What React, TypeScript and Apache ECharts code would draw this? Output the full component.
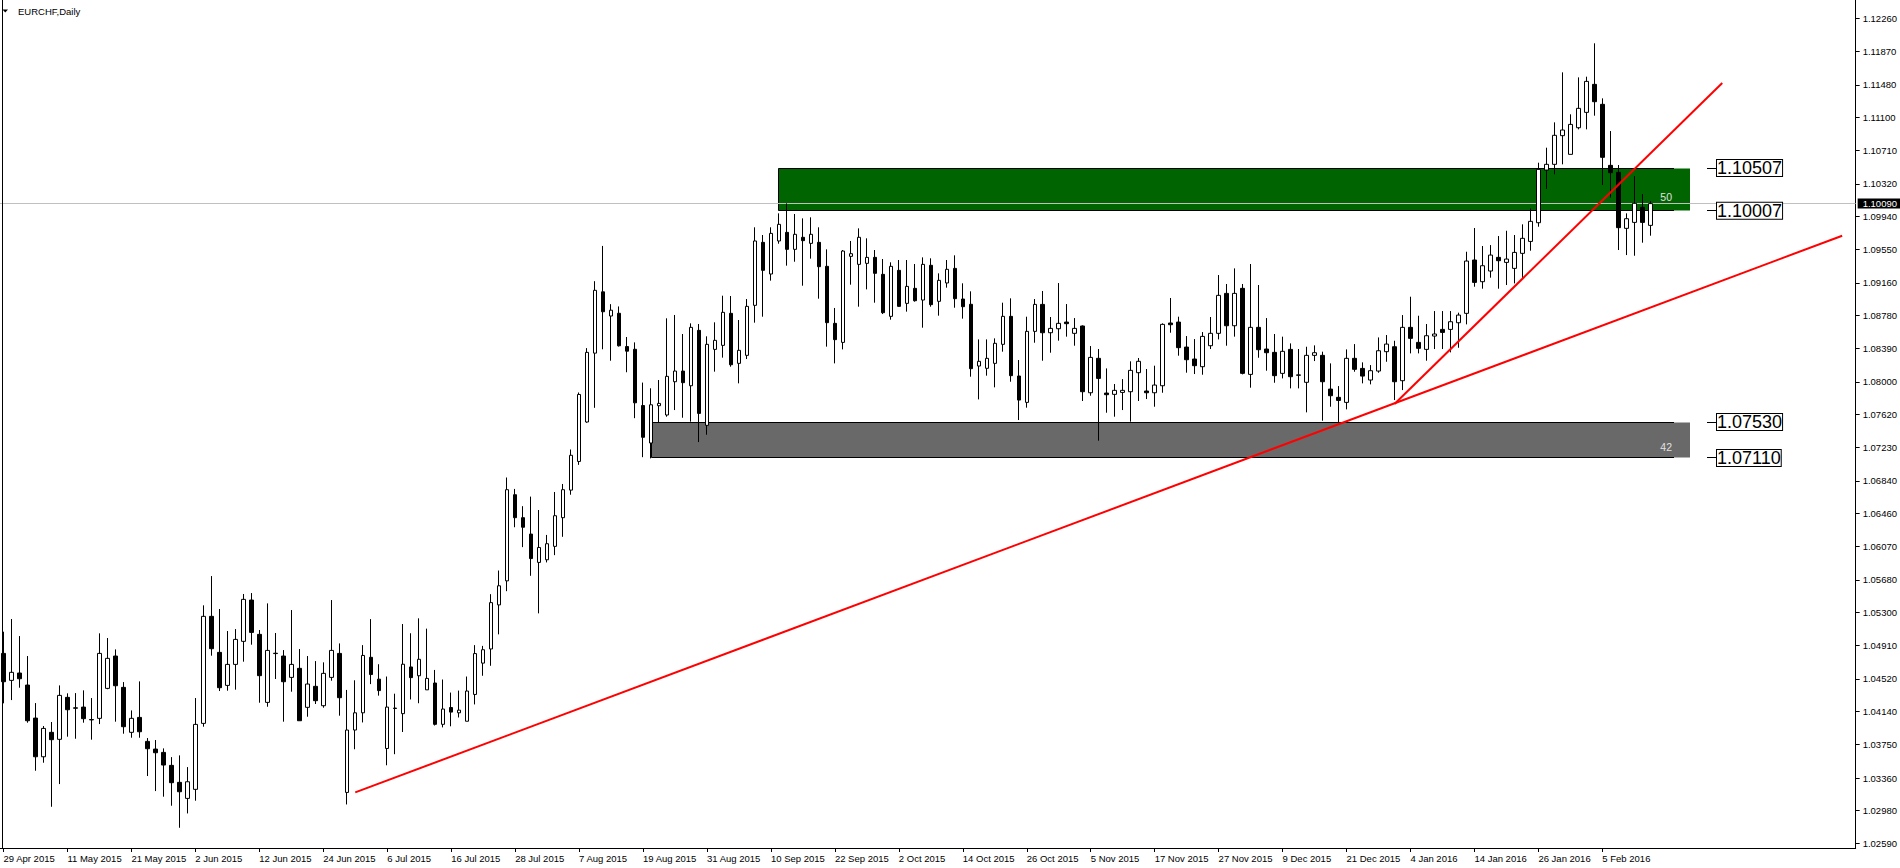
import React, { useEffect, useRef } from "react";
import * as echarts from "echarts";

// ---------- DATA ----------
const SYMBOL_TITLE = "EURCHF,Daily";
const START_DATE = "2015-04-29";
const HOLIDAYS = ["2015-12-25", "2016-01-01"];
const BAR_COUNT = 207;

const open = [
  1.0482, 1.04504, 1.0459, 1.04449, 1.04062, 1.03609, 1.03895, 1.03813, 1.04305, 1.04182,
  1.04191, 1.04045, 1.04059, 1.0441, 1.04789, 1.04422, 1.03895, 1.0407, 1.03789, 1.03699,
  1.0366, 1.03508, 1.03309, 1.03121, 1.03227, 1.04, 1.05254, 1.04832, 1.04445, 1.04691,
  1.04961, 1.05445, 1.05043, 1.04246, 1.04822, 1.04789, 1.04539, 1.04645, 1.04188, 1.04434,
  1.04207, 1.04539, 1.0482, 1.03191, 1.03922, 1.04124, 1.04774, 1.04518, 1.03706, 1.04179,
  1.04114, 1.04661, 1.04558, 1.04393, 1.04473, 1.03989, 1.04186, 1.04124, 1.04025, 1.04339,
  1.04706, 1.04872, 1.05388, 1.0567, 1.06679, 1.0641, 1.06218, 1.05886, 1.05917, 1.06074,
  1.0641, 1.06733, 1.07069, 1.07531, 1.08338, 1.09056, 1.08773, 1.08805, 1.08415, 1.08383,
  1.07724, 1.07285, 1.07722, 1.07613, 1.08003, 1.08128, 1.07956, 1.08605, 1.07492, 1.08382,
  1.08429, 1.08804, 1.08218, 1.08312, 1.08898, 1.09636, 1.09265, 1.09652, 1.09753, 1.09554,
  1.09695, 1.09624, 1.09636, 1.09355, 1.08687, 1.08464, 1.09472, 1.09378, 1.0939, 1.0946,
  1.09261, 1.08769, 1.09308, 1.08921, 1.09097, 1.0896, 1.09367, 1.08945, 1.0916, 1.09331,
  1.08972, 1.0891, 1.08187, 1.0816, 1.08218, 1.08441, 1.08769, 1.0807, 1.07761, 1.08593,
  1.08909, 1.08577, 1.08624, 1.08702, 1.0857, 1.08656, 1.07874, 1.08277, 1.0787, 1.07855,
  1.07878, 1.07886, 1.08109, 1.07894, 1.07874, 1.07956, 1.08691, 1.08702, 1.08409, 1.08269,
  1.08179, 1.08425, 1.0857, 1.09038, 1.08659, 1.09097, 1.08089, 1.0864, 1.08386, 1.08347,
  1.08101, 1.08382, 1.08083, 1.07996, 1.08312, 1.08312, 1.07917, 1.0782, 1.07761, 1.08277,
  1.08159, 1.08023, 1.08128, 1.08355, 1.08413, 1.08015, 1.0864, 1.08464, 1.08382, 1.08538,
  1.08616, 1.08616, 1.08694, 1.08804, 1.09429, 1.09175, 1.093, 1.0946, 1.09401, 1.09331,
  1.09507, 1.09647, 1.09866, 1.10483, 1.1055, 1.10886, 1.10667, 1.10979, 1.11159, 1.11487,
  1.11253, 1.10538, 1.10456, 1.098, 1.0987, 1.10046, 1.09835,
];
const high = [
  1.05074, 1.05223, 1.05023, 1.04789, 1.04238, 1.03969, 1.04016, 1.04445, 1.04352, 1.04355,
  1.04387, 1.04297, 1.05055, 1.05, 1.04867, 1.04484, 1.04152, 1.04492, 1.03828, 1.03805,
  1.03707, 1.03605, 1.03625, 1.03488, 1.04297, 1.05383, 1.05726, 1.0534, 1.05082, 1.05105,
  1.05516, 1.05527, 1.05094, 1.05406, 1.05059, 1.04859, 1.05328, 1.04871, 1.04789, 1.0473,
  1.04715, 1.05445, 1.04937, 1.04392, 1.04505, 1.04917, 1.05222, 1.04693, 1.04549, 1.04348,
  1.05164, 1.05056, 1.05231, 1.0511, 1.04626, 1.04514, 1.04361, 1.04384, 1.04549, 1.04917,
  1.04908, 1.05514, 1.05791, 1.06881, 1.06747, 1.06545, 1.06657, 1.065, 1.06208, 1.06711,
  1.06805, 1.07209, 1.07877, 1.08397, 1.09181, 1.09594, 1.08912, 1.08885, 1.08527, 1.08464,
  1.07993, 1.07926, 1.08023, 1.08746, 1.08785, 1.08562, 1.08687, 1.08679, 1.08535, 1.08699,
  1.09011, 1.09007, 1.08726, 1.08972, 1.09812, 1.09722, 1.09812, 1.09976, 1.10093, 1.09968,
  1.09917, 1.09929, 1.09812, 1.09554, 1.08867, 1.09546, 1.09652, 1.098, 1.09683, 1.09546,
  1.09441, 1.09402, 1.09429, 1.09429, 1.09382, 1.0946, 1.09449, 1.09273, 1.09429, 1.09484,
  1.09156, 1.09062, 1.08499, 1.08499, 1.08511, 1.08929, 1.0898, 1.08257, 1.08765, 1.08972,
  1.09066, 1.08761, 1.09159, 1.08913, 1.08749, 1.08663, 1.08421, 1.08386, 1.08159, 1.07976,
  1.08034, 1.08242, 1.08281, 1.08152, 1.08191, 1.08687, 1.08984, 1.08765, 1.08538, 1.08503,
  1.08585, 1.08761, 1.09253, 1.09148, 1.09331, 1.09148, 1.09382, 1.09136, 1.08749, 1.08562,
  1.08531, 1.08452, 1.08386, 1.08413, 1.08429, 1.08355, 1.08218, 1.07952, 1.08382, 1.08444,
  1.0823, 1.08198, 1.08522, 1.0855, 1.08483, 1.08784, 1.08999, 1.08776, 1.08679, 1.08831,
  1.08831, 1.08831, 1.08812, 1.09526, 1.09804, 1.09593, 1.09604, 1.0971, 1.09772, 1.09722,
  1.09847, 1.10034, 1.10569, 1.10745, 1.11042, 1.11628, 1.11136, 1.11569, 1.11577, 1.11968,
  1.11323, 1.1094, 1.10542, 1.09976, 1.10413, 1.10202, 1.1012,
];
const low = [
  1.04235, 1.04273, 1.04418, 1.04008, 1.03445, 1.03539, 1.03023, 1.03289, 1.03844, 1.0382,
  1.04008, 1.03809, 1.03992, 1.044, 1.0402, 1.03879, 1.03832, 1.03832, 1.03383, 1.03207,
  1.03141, 1.03035, 1.02777, 1.02945, 1.03094, 1.03961, 1.04793, 1.04379, 1.04383, 1.04395,
  1.04723, 1.04922, 1.04242, 1.04195, 1.0452, 1.0402, 1.04371, 1.04031, 1.04078, 1.04227,
  1.04184, 1.045, 1.0409, 1.0305, 1.03697, 1.04011, 1.0446, 1.04325, 1.03509, 1.03639,
  1.03899, 1.0428, 1.04236, 1.04393, 1.03975, 1.03953, 1.03966, 1.04069, 1.04025, 1.04222,
  1.04558, 1.04675, 1.05043, 1.05549, 1.06298, 1.06065, 1.05729, 1.05289, 1.05886, 1.05971,
  1.06186, 1.06679, 1.07029, 1.07522, 1.07697, 1.08383, 1.08249, 1.08415, 1.08114, 1.07576,
  1.07119, 1.07105, 1.07527, 1.07593, 1.07671, 1.07581, 1.07535, 1.07296, 1.07382, 1.08121,
  1.08285, 1.08179, 1.07984, 1.08269, 1.08695, 1.08765, 1.09187, 1.0962, 1.09363, 1.09409,
  1.09128, 1.09445, 1.08976, 1.08414, 1.08218, 1.08382, 1.0914, 1.08882, 1.09085, 1.08929,
  1.08796, 1.0873, 1.08882, 1.08824, 1.08941, 1.08636, 1.08882, 1.08777, 1.09105, 1.0887,
  1.08742, 1.08062, 1.07796, 1.08074, 1.07937, 1.08355, 1.08003, 1.07554, 1.07699, 1.0846,
  1.08249, 1.08343, 1.08484, 1.08531, 1.08425, 1.07777, 1.07839, 1.07312, 1.0764, 1.07593,
  1.07671, 1.07535, 1.07777, 1.078, 1.0771, 1.07874, 1.08577, 1.08308, 1.08109, 1.08093,
  1.08085, 1.08386, 1.08499, 1.08425, 1.08531, 1.08089, 1.07933, 1.08284, 1.08132, 1.07991,
  1.08042, 1.07925, 1.07925, 1.07644, 1.08245, 1.07546, 1.0771, 1.07523, 1.07679, 1.0812,
  1.07984, 1.07972, 1.08108, 1.08237, 1.07788, 1.07905, 1.08335, 1.08335, 1.08249, 1.08386,
  1.08386, 1.08347, 1.08401, 1.08675, 1.09116, 1.09093, 1.09222, 1.09093, 1.09136, 1.09155,
  1.09214, 1.09538, 1.09819, 1.10261, 1.10433, 1.1055, 1.10667, 1.1096, 1.1096, 1.1112,
  1.10308, 1.10159, 1.09546, 1.09487, 1.09479, 1.09632, 1.09714,
];
const close = [
  1.04488, 1.04598, 1.04523, 1.04031, 1.03609, 1.03941, 1.03809, 1.04328, 1.0416, 1.04178,
  1.04055, 1.04041, 1.0482, 1.04762, 1.04441, 1.03961, 1.04059, 1.03902, 1.03703, 1.03656,
  1.03512, 1.03305, 1.03199, 1.03316, 1.03988, 1.05254, 1.04875, 1.04418, 1.04691, 1.04984,
  1.05453, 1.05066, 1.04559, 1.04855, 1.04818, 1.04488, 1.04691, 1.04031, 1.04461, 1.04266,
  1.04586, 1.04855, 1.04301, 1.03922, 1.04124, 1.04796, 1.04572, 1.04384, 1.04191, 1.04175,
  1.04693, 1.04536, 1.04751, 1.04527, 1.03989, 1.04168, 1.04132, 1.04155, 1.04379, 1.04818,
  1.04863, 1.05415, 1.05612, 1.06738, 1.0641, 1.06298, 1.05931, 1.06061, 1.06105, 1.06433,
  1.06738, 1.07141, 1.07854, 1.08347, 1.09074, 1.08823, 1.08841, 1.08424, 1.08361, 1.07756,
  1.07352, 1.07733, 1.07749, 1.08066, 1.08128, 1.07992, 1.0864, 1.07632, 1.08441, 1.08488,
  1.08816, 1.08202, 1.08371, 1.08886, 1.09652, 1.09308, 1.09741, 1.09847, 1.09554, 1.0973,
  1.09656, 1.0973, 1.09351, 1.08695, 1.08496, 1.09534, 1.09503, 1.09695, 1.0946, 1.09273,
  1.08812, 1.09355, 1.08886, 1.0912, 1.08952, 1.09378, 1.08906, 1.09191, 1.0932, 1.08976,
  1.08882, 1.08156, 1.08242, 1.08277, 1.08453, 1.08769, 1.08074, 1.07788, 1.08593, 1.08909,
  1.08577, 1.08628, 1.08687, 1.08683, 1.08628, 1.07886, 1.08288, 1.08042, 1.07851, 1.07902,
  1.07902, 1.08136, 1.08242, 1.07874, 1.07964, 1.08675, 1.08671, 1.08402, 1.08261, 1.08191,
  1.08534, 1.0857, 1.09015, 1.08659, 1.09038, 1.08101, 1.0864, 1.08378, 1.08343, 1.08074,
  1.08359, 1.08062, 1.08079, 1.08312, 1.08343, 1.08003, 1.07839, 1.07784, 1.08277, 1.08148,
  1.08069, 1.08132, 1.08366, 1.08444, 1.08003, 1.0864, 1.08511, 1.08394, 1.08542, 1.08562,
  1.08581, 1.08706, 1.08784, 1.09417, 1.09167, 1.09362, 1.09487, 1.09421, 1.0944, 1.09518,
  1.09683, 1.09882, 1.10491, 1.1055, 1.1089, 1.10952, 1.11018, 1.11206, 1.11522, 1.11284,
  1.10632, 1.10452, 1.09808, 1.09913, 1.10093, 1.0987, 1.1009,
];

const yTickLabels = [
  1.0259, 1.0298, 1.0336, 1.0375, 1.0414, 1.0452, 1.0491, 1.053, 1.0568, 1.0607, 1.0646, 1.0684,
  1.0723, 1.0762, 1.08, 1.0839, 1.0878, 1.0916, 1.0955, 1.0994, 1.1032, 1.1071, 1.111, 1.1148,
  1.1187, 1.1226,
];
const xLabelBars = [
  0, 8, 16, 24, 32, 40, 48, 56, 64, 72, 80, 88, 96, 104, 112, 120, 128, 136, 144, 152, 160, 168,
  176, 184, 192, 200,
];

const currentPrice = 1.1009;

// zones: bar where it starts, bar where fill ends, bar where its outline ends
const zoneFrom = [97, 81];
const zoneTo = [211, 211];
const zoneOutlineTo = [209, 209];
const zoneTop = [1.10507, 1.0753];
const zoneBottom = [1.10007, 1.0711];
const zoneCount = ["50", "42"];
const zoneColor = ["#006400", "#696969"];

const priceLevels = [1.10507, 1.10007, 1.0753, 1.0711];
const priceLevelBar = 213.1;

const trendLong = [
  [44, 1.03191],
  [230, 1.09714],
];
const trendSteep = [
  [174, 1.07742],
  [215, 1.11502],
];

// ---------- LAYOUT ----------
const FONT = '"Liberation Sans", Arial, sans-serif';
const GRID_RIGHT_PX = 1857;
const GRID_BOTTOM_PX = 848;
const X_MIN = -3.5 / 8;
const X_MAX = X_MIN + GRID_RIGHT_PX / 8;
const PX_PER_UNIT = 8535;
const Y_REF = 1.0723;
const Y_REF_PX = 447.7;
const Y_MAX = Y_REF + Y_REF_PX / PX_PER_UNIT;
const Y_MIN = Y_REF - (GRID_BOTTOM_PX - Y_REF_PX) / PX_PER_UNIT;

const MONTHS = ["Jan", "Feb", "Mar", "Apr", "May", "Jun", "Jul", "Aug", "Sep", "Oct", "Nov", "Dec"];

function tradingDays(start: string, count: number, holidays: string[]): string[] {
  const out: string[] = [];
  const d = new Date(start + "T00:00:00Z");
  while (out.length < count) {
    const wd = d.getUTCDay();
    const iso = d.toISOString().slice(0, 10);
    if (wd !== 0 && wd !== 6 && holidays.indexOf(iso) < 0) {
      out.push(`${d.getUTCDate()} ${MONTHS[d.getUTCMonth()]} ${d.getUTCFullYear()}`);
    }
    d.setUTCDate(d.getUTCDate() + 1);
  }
  return out;
}

const dateLabels = tradingDays(START_DATE, BAR_COUNT, HOLIDAYS);

const crisp = (v: number) => Math.round(v - 0.5) + 0.5;

export default function App() {
  const ref = useRef<HTMLDivElement>(null);

  useEffect(() => {
    if (!ref.current) return;
    const chart = echarts.init(ref.current, undefined, { renderer: "svg" });

    const candleData = open.map((o, i) => [i, o, close[i], low[i], high[i]]);
    const zoneData = zoneFrom.map((f, i) => [f, zoneTop[i], zoneTo[i], zoneBottom[i], zoneOutlineTo[i]]);
    const levelData = priceLevels.map((p) => [priceLevelBar, p]);

    const option: any = {
      animation: false,
      backgroundColor: "#ffffff",
      grid: {
        left: 0,
        top: 0,
        width: GRID_RIGHT_PX,
        height: GRID_BOTTOM_PX,
        containLabel: false,
      },
      xAxis: {
        type: "value",
        min: X_MIN,
        max: X_MAX,
        position: "bottom",
        splitLine: { show: false },
        axisLine: { show: true, onZero: false, lineStyle: { color: "#000", width: 1 } },
        axisTick: {
          show: true,
          length: 4,
          customValues: xLabelBars,
          lineStyle: { color: "#000" },
        },
        axisLabel: {
          show: true,
          customValues: xLabelBars,
          formatter: (v: number) => dateLabels[Math.round(v)] ?? "",
          align: "left",
          margin: 5,
          color: "#000",
          fontSize: 9.5,
          fontFamily: FONT,
        },
      },
      yAxis: {
        type: "value",
        position: "right",
        min: Y_MIN,
        max: Y_MAX,
        scale: true,
        splitLine: { show: false },
        axisLine: { show: true, onZero: false, lineStyle: { color: "#000", width: 1 } },
        axisTick: {
          show: true,
          length: 4,
          customValues: yTickLabels,
          lineStyle: { color: "#000" },
        },
        axisLabel: {
          show: true,
          customValues: yTickLabels,
          formatter: (v: number) => v.toFixed(5),
          margin: 7,
          color: "#000",
          fontSize: 9.5,
          fontFamily: FONT,
        },
      },
      graphic: [
        {
          type: "line",
          shape: { x1: 2.5, y1: 0, x2: 2.5, y2: GRID_BOTTOM_PX },
          style: { stroke: "#000", lineWidth: 1 },
          z: 100,
        },
        {
          type: "polygon",
          shape: { points: [[2.5, 9.5], [8, 9.5], [5.25, 12.5]] },
          style: { fill: "#000" },
          z: 100,
        },
        {
          type: "text",
          x: 18,
          y: 11,
          style: {
            text: SYMBOL_TITLE,
            fill: "#000",
            font: `9.5px ${FONT}`,
            verticalAlign: "middle",
            align: "left",
          },
          z: 100,
        },
      ],
      series: [
        {
          type: "custom",
          name: "zones",
          z: 1,
          silent: true,
          clip: false,
          encode: { x: [0, 2], y: [1, 3] },
          data: zoneData,
          renderItem: (params: any, api: any) => {
            const i = params.dataIndex;
            const tl = api.coord([api.value(0), api.value(1)]);
            const br = api.coord([api.value(2), api.value(3)]);
            const oe = api.coord([api.value(4), api.value(3)]);
            const x0 = crisp(tl[0]);
            const y0 = crisp(tl[1]);
            const y1 = crisp(br[1]);
            const xo = Math.round(oe[0]);
            return {
              type: "group",
              children: [
                {
                  type: "rect",
                  shape: { x: x0, y: y0, width: Math.round(br[0]) - x0, height: y1 - y0 },
                  style: { fill: zoneColor[i] },
                },
                {
                  type: "polyline",
                  shape: { points: [[xo, y0], [x0, y0], [x0, y1], [xo, y1]] },
                  style: { stroke: "#000", lineWidth: 1, fill: "none" },
                },
                {
                  type: "text",
                  style: {
                    text: zoneCount[i],
                    x: xo - 2,
                    y: (y0 + y1) / 2 + 7,
                    align: "right",
                    verticalAlign: "middle",
                    fill: "#e0e0e0",
                    font: `10.5px ${FONT}`,
                  },
                },
              ],
            };
          },
        },
        {
          type: "candlestick",
          name: SYMBOL_TITLE,
          z: 3,
          barWidth: 4,
          encode: { x: 0, y: [1, 2, 3, 4] },
          data: candleData,
          itemStyle: {
            color: "#ffffff",
            color0: "#000000",
            borderColor: "#000000",
            borderColor0: "#000000",
            borderColorDoji: "#000000",
            borderWidth: 1,
          },
          markLine: {
            silent: true,
            symbol: ["none", "none"],
            precision: 5,
            z: 2,
            lineStyle: { color: "#c0c0c0", width: 1, type: "solid" },
            label: {
              show: true,
              position: "end",
              distance: 2,
              formatter: () => currentPrice.toFixed(5),
              backgroundColor: "#000",
              color: "#fff",
              padding: [1, 5, 0, 5],
              lineHeight: 9,
              fontSize: 9.5,
              fontFamily: FONT,
            },
            data: [{ yAxis: currentPrice }],
          },
        },
        {
          type: "line",
          name: "trendLong",
          z: 4,
          symbol: "none",
          silent: true,
          data: trendLong,
          lineStyle: { color: "#ff0000", width: 2 },
        },
        {
          type: "line",
          name: "trendSteep",
          z: 4,
          symbol: "none",
          silent: true,
          data: trendSteep,
          lineStyle: { color: "#ff0000", width: 2 },
        },
        {
          type: "custom",
          name: "levels",
          z: 5,
          silent: true,
          clip: false,
          encode: { x: 0, y: 1 },
          data: levelData,
          renderItem: (params: any, api: any) => {
            const i = params.dataIndex;
            const p = api.coord([api.value(0), api.value(1)]);
            const y = crisp(p[1]);
            const x = Math.round(p[0]);
            return {
              type: "group",
              children: [
                {
                  type: "line",
                  shape: { x1: x, y1: y, x2: x + 10, y2: y },
                  style: { stroke: "#000", lineWidth: 1 },
                },
                {
                  type: "text",
                  x: x + 10,
                  y: p[1],
                  style: {
                    text: priceLevels[i].toFixed(5),
                    font: `18px ${FONT}`,
                    fill: "#000",
                    align: "left",
                    verticalAlign: "middle",
                    backgroundColor: "#fff",
                    borderColor: "#000",
                    borderWidth: 1,
                    padding: [0, 0, 0, 0],
                    lineHeight: 16,
                  },
                },
              ],
            };
          },
        },
      ],
    };

    chart.setOption(option);
    return () => chart.dispose();
  }, []);

  return (
    <div
      ref={ref}
      style={{ position: "fixed", left: 0, top: 0, width: 1900, height: 868, background: "#fff" }}
    />
  );
}
